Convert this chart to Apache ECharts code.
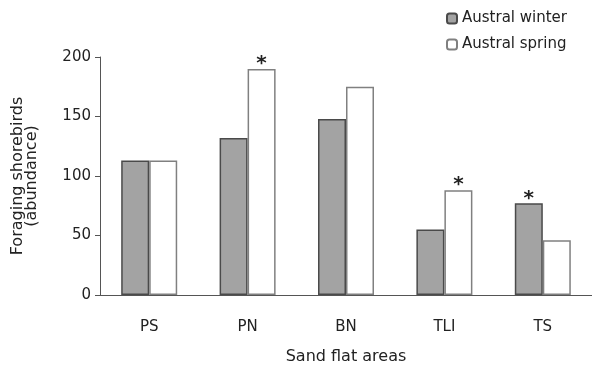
<!DOCTYPE html>
<html>
<head>
<meta charset="utf-8">
<script src="https://cdn.jsdelivr.net/npm/echarts@6/dist/echarts.min.js"></script>
<style>html,body{margin:0;padding:0;background:#fff}#c{width:592px;height:367px}</style>
</head>
<body>
<div id="c"></div>
<script>
const categories = ['PS', 'PN', 'BN', 'TLI', 'TS'];
const winter = [113, 132, 148, 55, 77];
const spring = [113, 190, 175, 88, 46];
const winterStar = [false, false, false, false, true];
const springStar = [false, true, false, true, false];
const yTicks = [0, 50, 100, 150, 200];

const FONT = 'DejaVu Sans';
function items(vals, stars) {
  return vals.map((v, i) => ({
    value: v,
    label: { show: stars[i], formatter: '*', position: 'top', distance: -5, fontSize: 20, fontWeight: 'bold', color: '#222', fontFamily: FONT }
  }));
}

const chart = echarts.init(document.getElementById('c'));
chart.setOption({
  animation: false,
  textStyle: { fontFamily: FONT },
  grid: { left: 100, right: 0, top: 57, bottom: 72, outerBoundsMode: 'none', containLabel: false },
  legend: {
    orient: 'vertical', left: 441, top: 6, itemWidth: 10, itemHeight: 10, itemGap: 11,
    textStyle: { fontSize: 15, color: '#222', fontFamily: FONT },
    data: ['Austral winter', 'Austral spring']
  },
  xAxis: {
    type: 'category', data: categories,
    name: 'Sand flat areas', nameLocation: 'middle', nameGap: 54,
    nameTextStyle: { fontSize: 16, color: '#222', fontFamily: FONT },
    axisLine: { lineStyle: { color: '#555', width: 1 } },
    axisTick: { length: 5, lineStyle: { color: '#555' } },
    axisLabel: { fontSize: 15, color: '#222', margin: 25, fontFamily: FONT }
  },
  yAxis: {
    type: 'value', min: yTicks[0], max: yTicks[yTicks.length - 1], interval: 50,
    name: 'Foraging shorebirds\n(abundance)', nameLocation: 'middle', nameGap: 61,
    nameTextStyle: { fontSize: 16, color: '#222', lineHeight: 14, fontFamily: FONT },
    axisLine: { show: true, lineStyle: { color: '#555', width: 1 } },
    axisTick: { show: true, length: 5, lineStyle: { color: '#555' } },
    axisLabel: { fontSize: 15, color: '#222', margin: 9, fontFamily: FONT },
    splitLine: { show: false }
  },
  series: [
    {
      name: 'Austral winter', type: 'bar', barWidth: 28, barGap: '0%',
      itemStyle: { color: '#a3a3a3', borderColor: '#4a4a4a', borderWidth: 1.5 },
      data: items(winter, winterStar)
    },
    {
      name: 'Austral spring', type: 'bar', barWidth: 28, barGap: '0%',
      itemStyle: { color: '#ffffff', borderColor: '#808080', borderWidth: 1.5 },
      data: items(spring, springStar)
    }
  ]
});
</script>
</body>
</html>
